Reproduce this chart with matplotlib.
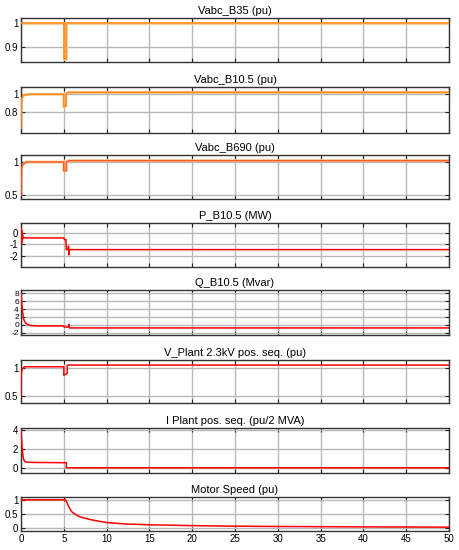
import numpy as np
import matplotlib
matplotlib.use("Agg")
import matplotlib.pyplot as plt

plt.rcParams['font.family'] = ['Liberation Sans', 'DejaVu Sans']

titles = ['Vabc_B35 (pu)', 'Vabc_B10.5 (pu)', 'Vabc_B690 (pu)', 'P_B10.5 (MW)',
          'Q_B10.5 (Mvar)', 'V_Plant 2.3kV pos. seq. (pu)', 'I Plant pos. seq. (pu/2 MVA)',
          'Motor Speed (pu)']

# time (s) / value pairs
t_b35 = [0, 5.0, 5.0, 5.2, 5.2, 50]
v_b35 = [1.0, 1.0, 0.85, 0.85, 1.0, 1.0]

t_b105 = [0, 0.05, 0.3, 1, 5.0, 5.0, 5.25, 5.25, 5.5, 50]
v_b105 = [0.62, 0.95, 0.99, 1.0, 1.0, 0.86, 0.87, 1.0, 1.02, 1.02]

t_b690 = [0, 0.05, 0.2, 0.6, 1, 5.0, 5.0, 5.3, 5.3, 5.6, 50]
v_b690 = [0.5, 0.9, 0.96, 1.0, 1.0, 1.0, 0.87, 0.87, 1.0, 1.02, 1.02]

t_p = [0, 0.02, 0.05, 0.08, 0.11, 0.14, 0.18, 0.22, 0.3, 0.5, 5.0, 5.1, 5.25, 5.3,
       5.5, 5.55, 5.6, 5.65, 5.7, 50]
v_p = [0.4, -1.0, 0.3, -0.9, 0.1, -0.7, -0.2, -0.5, -0.42, -0.45, -0.45, -0.6, -0.6, -1.45,
       -1.45, -1.15, -1.9, -1.45, -1.45, -1.45]

t_q = [0, 0.1, 0.2, 0.3, 0.5, 0.8, 1.2, 2, 3, 5.0, 5.0, 5.3, 5.6, 5.6, 5.65, 6, 50]
v_q = [8, 5, 3, 1.5, 0.5, 0.0, -0.2, -0.3, -0.3, -0.3, -0.5, -0.6, -0.5, 0.1, -0.8, -0.8, -0.8]

t_vp = [0, 0.05, 0.15, 0.4, 1, 5.0, 5.0, 5.4, 5.4, 5.6, 50]
v_vp = [0.5, 0.92, 0.98, 1.02, 1.02, 1.02, 0.87, 0.9, 1.05, 1.05, 1.05]

t_ip = [0, 0.1, 0.2, 0.3, 0.5, 0.8, 1.5, 5.3, 5.3, 50]
v_ip = [4.0, 2.5, 1.5, 0.9, 0.65, 0.6, 0.58, 0.55, 0.02, 0.02]

t_spd = [0, 5.2, 5.35, 5.5, 5.75, 6, 6.5, 7, 8, 9, 10, 12, 15, 20, 25, 30, 40, 50]
v_spd = [1.0, 1.0, 0.92, 0.81, 0.66, 0.56, 0.46, 0.39, 0.31, 0.25, 0.2, 0.15, 0.12, 0.09,
         0.07, 0.06, 0.045, 0.035]

series = [(t_b35, v_b35), (t_b105, v_b105), (t_b690, v_b690), (t_p, v_p),
          (t_q, v_q), (t_vp, v_vp), (t_ip, v_ip), (t_spd, v_spd)]

yticks = [[0.9, 1], [0.8, 1], [0.5, 1], [-2, -1, 0], [-2, 0, 2, 4, 6, 8],
          [0.5, 1], [0, 2, 4], [0, 0.5, 1]]
ylims = [(0.836, 1.02), (0.57, 1.08), (0.445, 1.105), (-2.94, 0.83),
         (-2.6, 8.85), (0.375, 1.14), (-0.53, 4.2), (-0.1, 1.1)]
colors = ['#FF8A1C', '#FF8A1C', '#FF5A24', 'red', 'red', 'red', 'red', 'red']

# axes rectangles in pixels (top, bottom)
rows = [(18, 62), (87, 133), (155, 199), (223, 267), (290, 335), (360, 403),
        (428, 473), (497, 531)]

W, H = 460, 550
fig = plt.figure(figsize=(W / 100, H / 100), dpi=100)
x0, x1 = 21, 449

for i, (top, bot) in enumerate(rows):
    ax = fig.add_axes([x0 / W, 1 - bot / H, (x1 - x0) / W, (bot - top) / H])
    t, v = series[i]
    if i < 3:
        ax.plot(t, v, color='#FFC890', lw=2.0, zorder=2)
    ax.plot(t, v, color=colors[i], lw=1.1, zorder=3)
    ax.set_xlim(0, 50)
    ax.set_ylim(*ylims[i])
    ax.set_xticks(np.arange(0, 51, 5))
    ax.set_yticks(yticks[i])
    ax.set_yticklabels([('%g' % y) for y in yticks[i]])
    ax.grid(True, color='#B8B8B8', lw=1.0)
    ax.set_axisbelow(True)
    ax.tick_params(direction='in', length=3, labelsize=7, top=True, right=True,
                   color='#222222', pad=2)
    if i == 4:
        ax.tick_params(axis='y', labelsize=6, pad=1.5)
    if i < len(rows) - 1:
        ax.set_xticklabels([])
    for s in ax.spines.values():
        s.set_color('#333333')
        s.set_linewidth(1.0)
    ax.set_title(titles[i], fontsize=8, pad=3)

fig.savefig('out.png', dpi=100)
